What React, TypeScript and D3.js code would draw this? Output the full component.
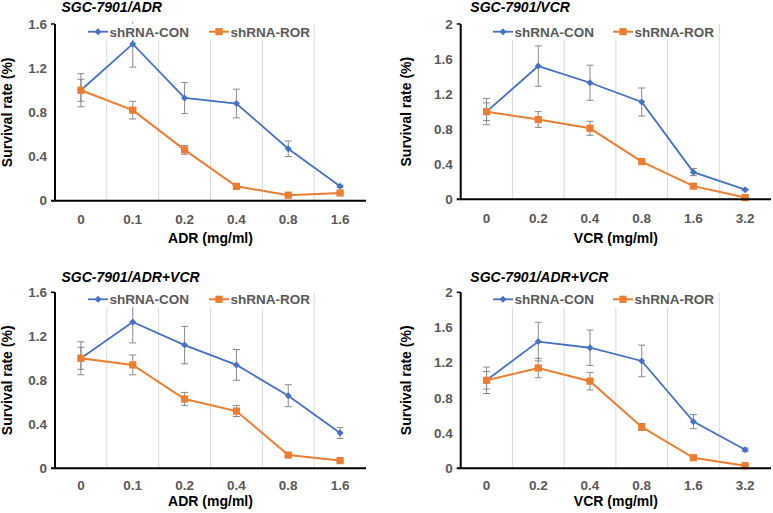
import React from "react";
import * as d3 from "d3";

const adrDoses = ["0", "0.1", "0.2", "0.4", "0.8", "1.6"];
const vcrDoses = ["0", "0.2", "0.4", "0.8", "1.6", "3.2"];
const adrTicks = [0, 0.4, 0.8, 1.2, 1.6];
const vcrTicks = [0, 0.4, 0.8, 1.2, 1.6, 2];

const adrCon = [1.0, 1.42, 0.93, 0.88, 0.47, 0.13];
const adrConErr = [0.15, 0.21, 0.14, 0.13, 0.07, 0.01];
const adrRor = [1.0, 0.82, 0.46, 0.13, 0.05, 0.07];
const adrRorErr = [0.1, 0.08, 0.04, 0.01, 0.01, 0.01];

const vcrCon = [1.0, 1.52, 1.33, 1.11, 0.31, 0.11];
const vcrConErr = [0.15, 0.23, 0.2, 0.16, 0.04, 0.01];
const vcrRor = [1.0, 0.91, 0.81, 0.43, 0.15, 0.02];
const vcrRorErr = [0.1, 0.09, 0.08, 0.03, 0.01, 0.01];

const comboAdrCon = [1.0, 1.33, 1.12, 0.94, 0.66, 0.32];
const comboAdrConErr = [0.15, 0.19, 0.17, 0.14, 0.1, 0.05];
const comboAdrRor = [1.0, 0.94, 0.63, 0.52, 0.12, 0.07];
const comboAdrRorErr = [0.1, 0.09, 0.06, 0.05, 0.01, 0.01];

const comboVcrCon = [1.0, 1.44, 1.37, 1.22, 0.53, 0.21];
const comboVcrConErr = [0.15, 0.22, 0.2, 0.18, 0.08, 0.02];
const comboVcrRor = [1.0, 1.14, 0.99, 0.47, 0.12, 0.03];
const comboVcrRorErr = [0.1, 0.11, 0.1, 0.04, 0.01, 0.01];

const seriesNames = ["shRNA-CON", "shRNA-ROR"];
const BLUE = "#4472C4";
const ORANGE = "#ED7D31";
const FONT = "'Liberation Sans', Arial, sans-serif";

type PanelProps = {
  title: string;
  xTitle: string;
  cats: string[];
  ticks: number[];
  yMax: number;
  con: number[];
  conErr: number[];
  ror: number[];
  rorErr: number[];
  x0: number;
  x1: number;
  yTop: number;
  yBot: number;
  titleX: number;
  titleY: number;
  legY: number;
  legConX: number;
  legRorX: number;
  tickY: number;
  xTitleY: number;
  yTitleX: number;
};

function Panel(p: PanelProps) {
  const x = d3.scaleBand<string>().domain(p.cats).range([p.x0, p.x1]);
  const y = d3.scaleLinear().domain([0, p.yMax]).range([p.yBot, p.yTop]);
  const cx = (c: string) => (x(c) as number) + x.bandwidth() / 2;
  const line = d3
    .line<number>()
    .x((_, i) => cx(p.cats[i]))
    .y((d) => y(d));
  const gridXs = p.cats.slice(1).map((c) => x(c) as number);
  const errBars = (vals: number[], errs: number[], key: string) =>
    vals.map((v, i) => {
      const xx = cx(p.cats[i]);
      const top = y(Math.min(v + errs[i], p.yMax + 0.02));
      const bot = y(v - errs[i]);
      return (
        <g key={key + i} stroke="#8a8a8a" strokeWidth={1}>
          <line x1={xx} x2={xx} y1={top} y2={bot} />
          {v + errs[i] <= p.yMax && <line x1={xx - 3.5} x2={xx + 3.5} y1={top} y2={top} />}
          <line x1={xx - 3.5} x2={xx + 3.5} y1={bot} y2={bot} />
        </g>
      );
    });
  const legW = 20;
  return (
    <g>
      {gridXs.map((gx, i) => (
        <line key={"g" + i} x1={gx} x2={gx} y1={p.yTop} y2={p.yBot} stroke="#d9d9d9" strokeWidth={1} />
      ))}
      {errBars(p.con, p.conErr, "ce")}
      {errBars(p.ror, p.rorErr, "re")}
      <path d={line(p.con) || ""} fill="none" stroke={BLUE} strokeWidth={1.8} />
      <path d={line(p.ror) || ""} fill="none" stroke={ORANGE} strokeWidth={2} />
      {p.con.map((v, i) => {
        const xx = cx(p.cats[i]);
        const yy = y(v);
        return (
          <path key={"cm" + i} d={`M${xx},${yy - 3.5}L${xx + 3.5},${yy}L${xx},${yy + 3.5}L${xx - 3.5},${yy}Z`} fill={BLUE} />
        );
      })}
      {p.ror.map((v, i) => {
        const xx = cx(p.cats[i]);
        const yy = y(v);
        return <rect key={"rm" + i} x={xx - 3.6} y={yy - 3.6} width={7.2} height={7.2} fill={ORANGE} />;
      })}
      {/* legend */}
      <rect x={p.legConX - 2} y={p.legY - 8} width={p.legRorX + 104 - p.legConX} height={16} fill="#fff" />
      <line x1={p.legConX} x2={p.legConX + legW} y1={p.legY} y2={p.legY} stroke={BLUE} strokeWidth={1.8} />
      <path
        d={`M${p.legConX + legW / 2},${p.legY - 3.5}L${p.legConX + legW / 2 + 3.5},${p.legY}L${p.legConX + legW / 2},${p.legY + 3.5}L${p.legConX + legW / 2 - 3.5},${p.legY}Z`}
        fill={BLUE}
      />
      <text x={p.legConX + legW + 1.5} y={p.legY + 4.8} fontSize={13.5} fontWeight="bold" fill="#595959">
        {seriesNames[0]}
      </text>
      <line x1={p.legRorX} x2={p.legRorX + legW} y1={p.legY} y2={p.legY} stroke={ORANGE} strokeWidth={2} />
      <rect x={p.legRorX + legW / 2 - 3.6} y={p.legY - 3.6} width={7.2} height={7.2} fill={ORANGE} />
      <text x={p.legRorX + legW + 1.5} y={p.legY + 4.8} fontSize={13.5} fontWeight="bold" fill="#595959">
        {seriesNames[1]}
      </text>
      {/* axes */}
      <line x1={p.x0} x2={p.x0} y1={p.yTop} y2={p.yBot} stroke="#000" strokeWidth={2} />
      <line x1={p.x0 - 4} x2={p.x0} y1={p.yTop} y2={p.yTop} stroke="#000" strokeWidth={1.5} />
      <line x1={p.x0 - 4} x2={p.x1} y1={p.yBot} y2={p.yBot} stroke="#000" strokeWidth={2} />
      {p.ticks.map((t) => (
        <text key={"yt" + t} x={p.x0 - 8} y={y(t) + 4.7} textAnchor="end" fontSize={13.5} fontWeight="bold" fill="#595959">
          {String(t)}
        </text>
      ))}
      {p.cats.map((c) => (
        <text key={"xt" + c} x={cx(c)} y={p.tickY} textAnchor="middle" fontSize={13.5} fontWeight="bold" fill="#595959">
          {c}
        </text>
      ))}
      <text x={(p.x0 + p.x1) / 2} y={p.xTitleY} textAnchor="middle" fontSize={14} fontWeight="bold" fill="#000">
        {p.xTitle}
      </text>
      <text
        transform={`translate(${p.yTitleX},${(p.yTop + p.yBot) / 2}) rotate(-90)`}
        textAnchor="middle"
        fontSize={14}
        fontWeight="bold"
        fill="#000"
      >
        Survival rate (%)
      </text>
      <text x={p.titleX} y={p.titleY} fontSize={14} fontWeight="bold" fontStyle="italic" fill="#000">
        {p.title}
      </text>
    </g>
  );
}

export default function App() {
  return (
    <svg width={773} height={513} style={{ display: "block", position: "absolute", left: 0, top: 0, fontFamily: FONT, background: "#fff" }}>
      <rect width={773} height={513} fill="#fff" />
      <Panel
        title="SGC-7901/ADR"
        xTitle="ADR (mg/ml)"
        cats={adrDoses}
        ticks={adrTicks}
        yMax={1.6}
        con={adrCon}
        conErr={adrConErr}
        ror={adrRor}
        rorErr={adrRorErr}
        x0={55}
        x1={366}
        yTop={24}
        yBot={200.7}
        titleX={61.5}
        titleY={11.5}
        legY={31.7}
        legConX={88}
        legRorX={209}
        tickY={223.5}
        xTitleY={242.5}
        yTitleX={12}
      />
      <Panel
        title="SGC-7901/VCR"
        xTitle="VCR (mg/ml)"
        cats={vcrDoses}
        ticks={vcrTicks}
        yMax={2}
        con={vcrCon}
        conErr={vcrConErr}
        ror={vcrRor}
        rorErr={vcrRorErr}
        x0={460.7}
        x1={771}
        yTop={24}
        yBot={199.3}
        titleX={470.3}
        titleY={11.5}
        legY={31.7}
        legConX={493}
        legRorX={613}
        tickY={223}
        xTitleY={243}
        yTitleX={411}
      />
      <Panel
        title="SGC-7901/ADR+VCR"
        xTitle="ADR (mg/ml)"
        cats={adrDoses}
        ticks={adrTicks}
        yMax={1.6}
        con={comboAdrCon}
        conErr={comboAdrConErr}
        ror={comboAdrRor}
        rorErr={comboAdrRorErr}
        x0={55}
        x1={366}
        yTop={292.3}
        yBot={468.3}
        titleX={61.5}
        titleY={282}
        legY={299.3}
        legConX={88}
        legRorX={209}
        tickY={490}
        xTitleY={505.7}
        yTitleX={12}
      />
      <Panel
        title="SGC-7901/ADR+VCR"
        xTitle="VCR (mg/ml)"
        cats={vcrDoses}
        ticks={vcrTicks}
        yMax={2}
        con={comboVcrCon}
        conErr={comboVcrConErr}
        ror={comboVcrRor}
        rorErr={comboVcrRorErr}
        x0={460.7}
        x1={771}
        yTop={292.3}
        yBot={468.3}
        titleX={470.3}
        titleY={282}
        legY={299.3}
        legConX={493}
        legRorX={613}
        tickY={490}
        xTitleY={505.7}
        yTitleX={411}
      />
    </svg>
  );
}
